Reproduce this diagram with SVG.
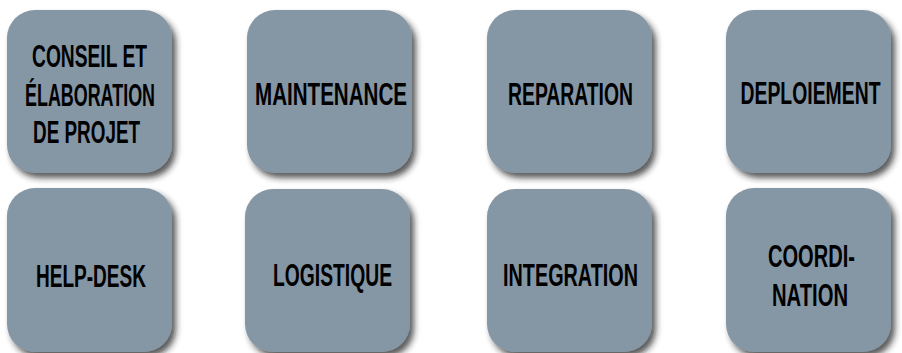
<svg xmlns="http://www.w3.org/2000/svg" width="902" height="353" viewBox="0 0 902 353">
<defs>
<filter id="sh" x="-10%" y="-10%" width="125%" height="125%">
<feDropShadow dx="4" dy="5" stdDeviation="3" flood-color="#222" flood-opacity="0.75"/>
</filter>
<style>
.box{fill:#8596a5;filter:url(#sh)}
.t{font-family:"Liberation Sans",Arial,sans-serif;font-weight:bold;font-size:32px;fill:#000;text-anchor:middle}
</style>
</defs>
<rect width="902" height="353" fill="#fff"/>
<g id="connectors"/>
<g id="n1"><rect class="box" x="7" y="10" width="165" height="163" rx="28"/>
<text class="t" transform="translate(89.5,67) scale(0.6,1)" textLength="191.7" lengthAdjust="spacingAndGlyphs">CONSEIL ET</text>
<text class="t" transform="translate(90,106) scale(0.6,1)" textLength="216.7" lengthAdjust="spacingAndGlyphs">ÉLABORATION</text>
<text class="t" transform="translate(86.5,143) scale(0.6,1)" textLength="178.3" lengthAdjust="spacingAndGlyphs">DE PROJET</text></g>
<g id="n2"><rect class="box" x="247" y="10" width="165" height="163" rx="28"/>
<text class="t" transform="translate(331,105) scale(0.6,1)" textLength="253.3" lengthAdjust="spacingAndGlyphs">MAINTENANCE</text></g>
<g id="n3"><rect class="box" x="487" y="10" width="165" height="163" rx="28"/>
<text class="t" transform="translate(570.5,105) scale(0.6,1)" textLength="208.3" lengthAdjust="spacingAndGlyphs">REPARATION</text></g>
<g id="n4"><rect class="box" x="726" y="10" width="165" height="163" rx="28"/>
<text class="t" transform="translate(810.5,104) scale(0.6,1)" textLength="233.3" lengthAdjust="spacingAndGlyphs">DEPLOIEMENT</text></g>
<g id="n5"><rect class="box" x="7" y="188" width="165" height="164" rx="28"/>
<text class="t" transform="translate(91,287) scale(0.6,1)" textLength="183.3" lengthAdjust="spacingAndGlyphs">HELP-DESK</text></g>
<g id="n6"><rect class="box" x="245" y="189" width="165" height="163" rx="28"/>
<text class="t" transform="translate(332.5,286) scale(0.6,1)" textLength="198.3" lengthAdjust="spacingAndGlyphs">LOGISTIQUE</text></g>
<g id="n7"><rect class="box" x="487" y="189" width="165" height="163" rx="28"/>
<text class="t" transform="translate(570.5,286) scale(0.6,1)" textLength="225" lengthAdjust="spacingAndGlyphs">INTEGRATION</text></g>
<g id="n8"><rect class="box" x="726" y="188" width="165" height="164" rx="28"/>
<text class="t" transform="translate(811.5,267) scale(0.6,1)" textLength="145" lengthAdjust="spacingAndGlyphs">COORDI-</text>
<text class="t" transform="translate(810,306) scale(0.6,1)" textLength="126.7" lengthAdjust="spacingAndGlyphs">NATION</text></g>
</svg>
